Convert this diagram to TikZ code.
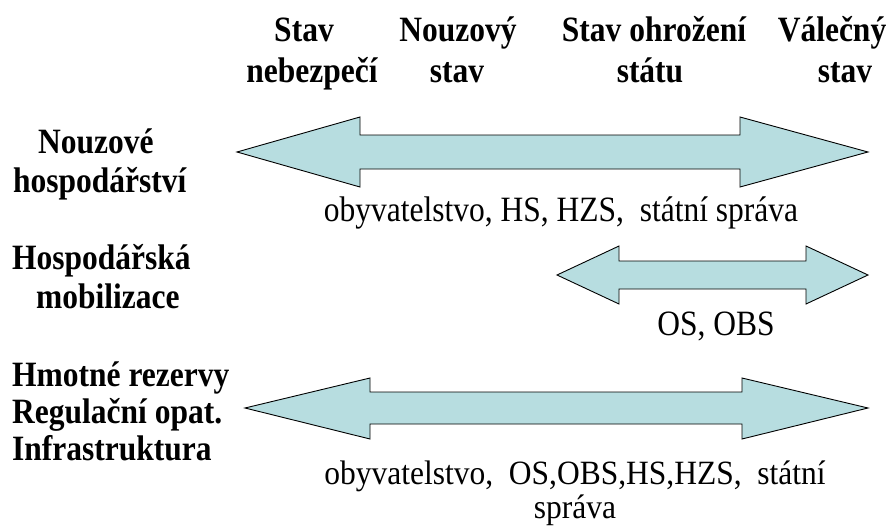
\documentclass[tikz,border=0pt]{standalone}
\usepackage{fontspec}
\setmainfont{Liberation Serif}
\newcommand{\vstr}[1]{\scalebox{1}[1.13]{#1}}
\newcommand{\vstrb}[1]{\scalebox{1}[1.08]{#1}}
\begin{document}
\begin{tikzpicture}[x=1pt,y=-1pt,
  lbl/.style={inner sep=0pt,font=\fontsize{31.5}{37}\selectfont\bfseries},
  body/.style={inner sep=0pt,font=\fontsize{31.5}{37}\selectfont},
  dblarrow/.style={draw=black,line width=0.9pt,fill=arrowfill,line join=miter}]
\definecolor{arrowfill}{RGB}{183,221,224}
\useasboundingbox (0,0) rectangle (889,527);
% headers
\node[lbl,anchor=base] (h1a) at (304,42) {\vstr{Stav}};
\node[lbl,anchor=base] (h1b) at (312,83) {\vstr{nebezpečí}};
\node[lbl,anchor=base] (h2a) at (458,42) {\vstr{Nouzový}};
\node[lbl,anchor=base] (h2b) at (457,83) {\vstr{stav}};
\node[lbl,anchor=base] (h3a) at (654,42) {\vstr{Stav ohrožení}};
\node[lbl,anchor=base] (h3b) at (650,83) {\vstr{státu}};
\node[lbl,anchor=base] (h4a) at (832,42) {\vstr{Válečný}};
\node[lbl,anchor=base] (h4b) at (845,83) {\vstr{stav}};
% left labels
\node[lbl,anchor=base west] (l1a) at (38,153) {\vstr{Nouzové}};
\node[lbl,anchor=base west] (l1b) at (13,192) {\vstr{hospodářství}};
\node[lbl,anchor=base west] (l2a) at (12,269) {\vstr{Hospodářská}};
\node[lbl,anchor=base west] (l2b) at (36,308) {\vstr{mobilizace}};
\node[lbl,anchor=base west] (l3a) at (12,386) {\vstr{Hmotné rezervy}};
\node[lbl,anchor=base west] (l3b) at (12,423) {\vstr{Regulační opat.}};
\node[lbl,anchor=base west] (l3c) at (12,460) {\vstr{Infrastruktura}};
% arrows
\draw[dblarrow] (237,152) -- (360,117) -- (360,135) -- (740,135) -- (740,117) -- (868,152)
  -- (740,187) -- (740,169) -- (360,169) -- (360,187) -- cycle;
\draw[dblarrow] (557,275) -- (619,246) -- (619,261) -- (806,261) -- (806,246) -- (868,275)
  -- (806,304) -- (806,289) -- (619,289) -- (619,304) -- cycle;
\draw[dblarrow] (245,408) -- (370,378) -- (370,392) -- (742,392) -- (742,378) -- (868,408)
  -- (742,439) -- (742,424) -- (370,424) -- (370,439) -- cycle;
% body texts
\node[body,anchor=base] (t1) at (561,221) {\vstr{obyvatelstvo, HS, HZS,\ \ státní správa}};
\node[body,anchor=base] (t2) at (716,335) {\vstr{OS, OBS}};
\node[body,anchor=base] (t3a) at (575,484) {\vstrb{obyvatelstvo,\ \ OS,OBS,HS,HZS,\ \ státní}};
\node[body,anchor=base] (t3b) at (575,518) {\vstrb{správa}};
\end{tikzpicture}
\end{document}
